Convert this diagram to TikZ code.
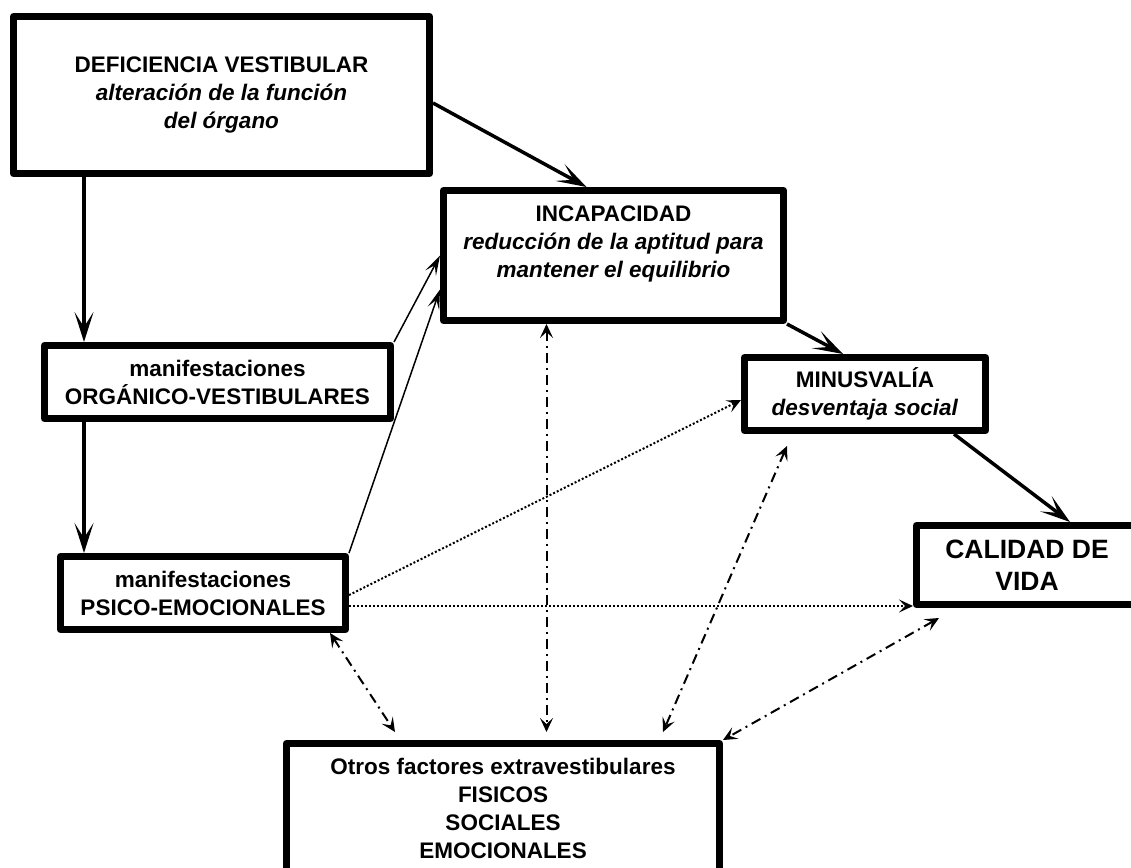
\documentclass[tikz,border=0pt]{standalone}
\usepackage{fontspec}
\setmainfont{Liberation Sans}
\usetikzlibrary{arrows.meta}

\newcommand{\boxfont}{\fontsize{22.5}{28}\selectfont\bfseries}
\newcommand{\bigboxfont}{\fontsize{26.5}{32}\selectfont\bfseries}

\tikzset{
  box/.style={draw, line width=7pt, line join=round, align=center, font=\boxfont, inner sep=0pt},
  mainarrow/.style={line width=3.5pt, -{Stealth[length=30pt,width=19pt,inset=15pt]}},
  thinarrow/.style={line width=1.5pt, -{Stealth[length=20pt,width=12pt,inset=9pt]}},
  dotarrow/.style={line width=2pt, dash pattern=on 2pt off 2pt, -{Stealth[length=14pt,width=13pt,inset=6pt]}},
  ddarrow/.style={line width=2pt, dash pattern=on 10pt off 5pt on 2pt off 5pt,
    {Stealth[length=14pt,width=13pt,inset=6pt]}-{Stealth[length=14pt,width=13pt,inset=6pt]}},
}

\begin{document}
\begin{tikzpicture}[x=1pt,y=-1pt]
  \useasboundingbox (0,0) rectangle (1131,867);

  % Boxes
  \node[box, minimum width=416pt, minimum height=157pt] (def) at (221.5,95)
    {DEFICIENCIA VESTIBULAR\\ \textit{alteración de la función}\\ \textit{del órgano}};
  \node[box, minimum width=340pt, minimum height=130pt] (inc) at (613.5,255.5)
    {INCAPACIDAD\\ \textit{reducción de la aptitud para}\\ \textit{mantener el equilibrio}\\ \mbox{}};
  \node[box, minimum width=346pt, minimum height=73pt] (org) at (217.5,382)
    {manifestaciones\\ ORGÁNICO-VESTIBULARES};
  \node[box, minimum width=285pt, minimum height=73pt] (psi) at (203,593)
    {manifestaciones\\ PSICO-EMOCIONALES};
  \node[box, minimum width=241pt, minimum height=73pt] (min) at (865,394)
    {MINUSVALÍA\\ \textit{desventaja social}};
  \node[box, minimum width=221pt, minimum height=79pt, font=\bigboxfont] (cal) at (1027,565)
    {CALIDAD DE\\ VIDA};
  \node[box, minimum width=433pt, minimum height=129pt] (oth) at (503,808)
    {Otros factores extravestibulares\\ FISICOS\\ SOCIALES\\ EMOCIONALES};

  % Solid arrows
  \coordinate (lft) at (84,0);
  \draw[mainarrow] ([yshift=-8pt]def.east) -- ([xshift=-27pt]inc.north);
  \draw[mainarrow] (lft |- def.south) -- (lft |- org.north);
  \draw[mainarrow] (lft |- org.south) -- (lft |- psi.north);
  \draw[mainarrow] (inc.south east) -- ([xshift=-22pt]min.north);
  \draw[mainarrow] ([xshift=89pt]min.south) -- ([xshift=43pt]cal.north);

  % Thin arrows into INCAPACIDAD
  \draw[thinarrow] (org.north east) -- (inc.west);
  \draw[thinarrow] (psi.north east) -- ([yshift=-34pt]inc.west);

  % Dotted arrows
  \draw[dotarrow] ([yshift=-2pt]psi.east) -- ([yshift=-6pt]min.west);
  \draw[dotarrow] ([yshift=-13pt]psi.east) -- ([yshift=-13pt]psi.east -| cal.west);

  % Dash-dot arrows to the other factors
  \draw[ddarrow, shorten >=8pt] ([xshift=-67pt]inc.south) -- ([xshift=-67pt]inc.south |- oth.north);
  \draw[ddarrow] ([xshift=-19pt]psi.south east) -- ([xshift=-108pt,yshift=8pt]oth.north);
  \draw[ddarrow] ([shift={(-78pt,-12pt)}]min.south) -- ([xshift=160pt,yshift=8pt]oth.north);
  \draw[ddarrow] ([shift={(26pt,-10pt)}]cal.south west) -- (oth.north east);
\end{tikzpicture}
\end{document}
